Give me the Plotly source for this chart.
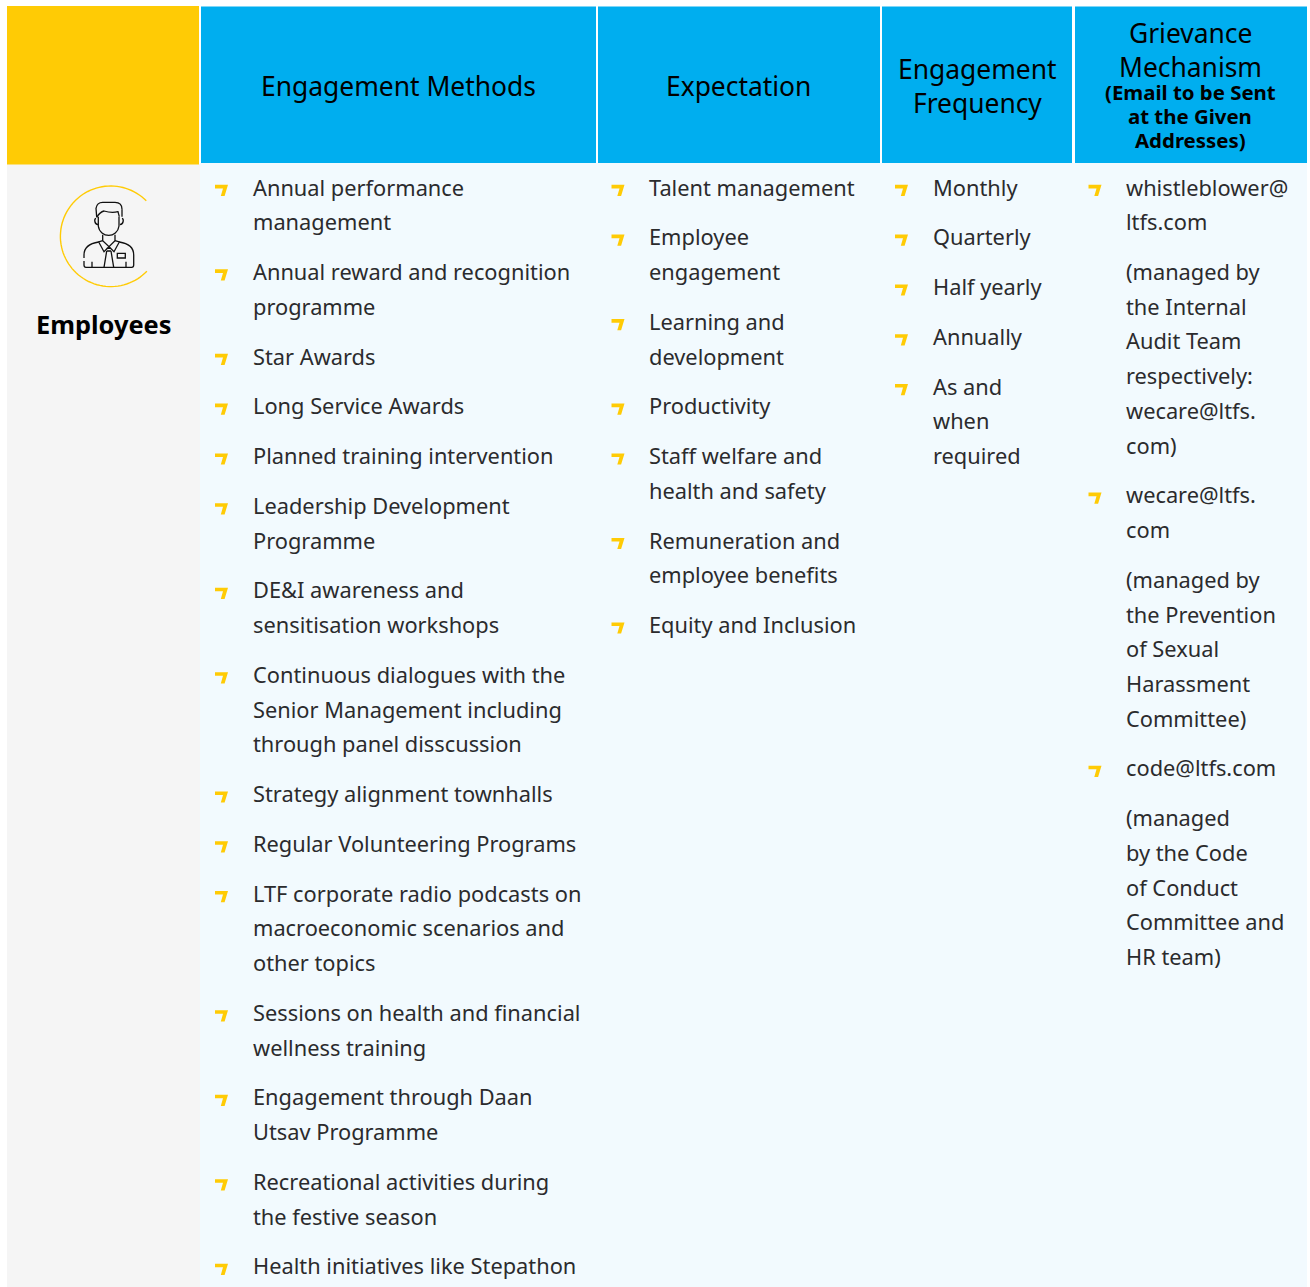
import re
import numpy as np
import plotly.graph_objects as go

# ---------- content ----------
headers = ["Engagement Methods", "Expectation", "Engagement<br>Frequency", "Grievance<br>Mechanism"]
grievance_note = ["(Email to be Sent", "at the Given", "Addresses)"]
stakeholder = "Employees"

# every entry: (has_bullet, lines)
methods = [
    (1, ["Annual performance", "management"]),
    (1, ["Annual reward and recognition", "programme"]),
    (1, ["Star Awards"]),
    (1, ["Long Service Awards"]),
    (1, ["Planned training intervention"]),
    (1, ["Leadership Development", "Programme"]),
    (1, ["DE&I awareness and", "sensitisation workshops"]),
    (1, ["Continuous dialogues with the", "Senior Management including", "through panel disscussion"]),
    (1, ["Strategy alignment townhalls"]),
    (1, ["Regular Volunteering Programs"]),
    (1, ["LTF corporate radio podcasts on", "macroeconomic scenarios and", "other topics"]),
    (1, ["Sessions on health and financial", "wellness training"]),
    (1, ["Engagement through Daan", "Utsav Programme"]),
    (1, ["Recreational activities during", "the festive season"]),
    (1, ["Health initiatives like Stepathon"]),
]
expectation = [
    (1, ["Talent management"]),
    (1, ["Employee", "engagement"]),
    (1, ["Learning and", "development"]),
    (1, ["Productivity"]),
    (1, ["Staff welfare and", "health and safety"]),
    (1, ["Remuneration and", "employee benefits"]),
    (1, ["Equity and Inclusion"]),
]
frequency = [
    (1, ["Monthly"]),
    (1, ["Quarterly"]),
    (1, ["Half yearly"]),
    (1, ["Annually"]),
    (1, ["As and", "when", "required"]),
]
grievance = [
    (1, ["whistleblower@", "ltfs.com"]),
    (0, ["(managed by", "the Internal", "Audit Team", "respectively:", "wecare@ltfs.", "com)"]),
    (1, ["wecare@ltfs.", "com"]),
    (0, ["(managed by", "the Prevention", "of Sexual", "Harassment", "Committee)"]),
    (1, ["code@ltfs.com"]),
    (0, ["(managed", "by the Code", "of Conduct", "Committee and", "HR team)"]),
]
columns = [methods, expectation, frequency, grievance]

# ---------- layout ----------
W, H = 1310, 1287
FONT = "Noto Sans"
BLUE, YELLOW, GREY, PALE, INK = "#00AEEF", "#FFCB05", "#F5F5F5", "#F2FAFE", "#2B2B2D"
col_bounds = [(201, 596), (598, 880), (882, 1072), (1075, 1307)]
bullet_x = [215, 611.5, 895, 1088.5]
text_x = [251, 647, 930.5, 1124]
LINE, GAP, FIRST = 34.7, 49.8, 188

def rect(x0, y0, x1, y1, c):
    return dict(type="rect", x0=x0, y0=y0, x1=x1, y1=y1, fillcolor=c,
                line_width=0, layer="below")

shapes = [
    rect(200, 163, 1307, H, PALE),
    rect(7, 164, 200, H, GREY),
    rect(7, 6, 199, 164.5, YELLOW),
]
shapes += [rect(a, 6.5, b, 163, BLUE) for a, b in col_bounds]

def bullet(x, y):
    pts = [(0, -3.2), (13, -3.2), (9.6, 8), (5.8, 8), (8, 0.4), (0, 0.4)]
    d = "M" + " L".join(f"{x+a:.1f},{y+b:.1f}" for a, b in pts) + " Z"
    return dict(type="path", path=d, fillcolor=YELLOW, line_width=0)

anns = []
for cx, c in enumerate(columns):
    y = FIRST
    for has_bullet, lines in c:
        if has_bullet:
            shapes.append(bullet(bullet_x[cx], y))
        for t in lines:
            anns.append(dict(x=text_x[cx], y=y - 1, text=t, xanchor="left", yanchor="middle",
                             showarrow=False, font=dict(family=FONT, size=21.8, color=INK)))
            y += LINE
        y += GAP - LINE

def head(x, y, t, size=26.4, bold=False):
    anns.append(dict(x=x, y=y, text=f"<b>{t}</b>" if bold else t, xanchor="center",
                     yanchor="middle", showarrow=False,
                     font=dict(family=FONT, size=size, color="#000000")))

head(398.5, 85.5, headers[0])
head(738.5, 85.5, headers[1])
fr = headers[2].split("<br>")
head(977, 68.5, fr[0]); head(977, 102.5, fr[1])
gr = headers[3].split("<br>")
head(1190, 32.5, gr[0]); head(1190, 66.5, gr[1])
for yy, t in zip([91.5, 115.5, 139.5], grievance_note):
    head(1190, yy, t, size=20.4, bold=True)
head(103.5, 323.5, stakeholder, size=25.4, bold=True)

# icon: open ring plus outline person (drawn in 3x crop units)
th = np.radians(np.linspace(-45, -316, 80))
ring = "M" + " L".join(f"{110.7+50.3*np.cos(t):.1f},{236.3+50.3*np.sin(t):.1f}" for t in th)
shapes.append(dict(type="path", path=ring, line=dict(color=YELLOW, width=1.4)))

person = [
    "M295,650 L295,678 C297,696 312,706 326,706 C340,706 355,696 357,678 L357,650",
    "M290,652 L288,625 C290,612 298,607 308,607 L345,607 C358,607 366,615 366,628",
    "M290,652 C296,642 300,636 312,633 C325,637 342,638 354,635 L358,650",
    "M366,628 L366,650 M288,655 C282,657 283,672 294,674 M366,655 C372,657 371,672 360,674",
    "M308,704 L308,722 L327,740 L345,722 L345,704",
    "M308,722 L296,726 L312,755 L327,740 L342,755 L358,726 L345,722",
    "M296,726 C270,730 252,740 252,765 L252,774 M252,783 L252,795 C252,800 254,802 258,802 L395,802 C399,802 401,800 401,795 L401,765 C401,740 385,730 358,726",
    "M320,753 L312,802 M333,753 L341,802 M320,753 L333,753 M320,745 L333,745",
    "M352,760 L376,760 L376,774 L352,774 Z",
    "M276,785 L276,802 M378,785 L378,802",
]
def scale(p):
    return re.sub(r"(\d+),(\d+)",
                  lambda m: f"{float(m.group(1))/3:.1f},{float(m.group(2))/3:.1f}", p)
for p in person:
    shapes.append(dict(type="path", path=scale(p), line=dict(color="#111111", width=1.3)))

fig = go.Figure()
fig.update_layout(
    width=W, height=H, margin=dict(l=0, r=0, t=0, b=0),
    paper_bgcolor="white", plot_bgcolor="white", showlegend=False,
    xaxis=dict(range=[0, W], visible=False, fixedrange=True),
    yaxis=dict(range=[H, 0], visible=False, fixedrange=True),
    shapes=shapes, annotations=anns,
)
fig.write_html("out.html", config=dict(displayModeBar=False),
               post_script="document.body.style.margin='0';document.body.style.overflow='hidden';")
